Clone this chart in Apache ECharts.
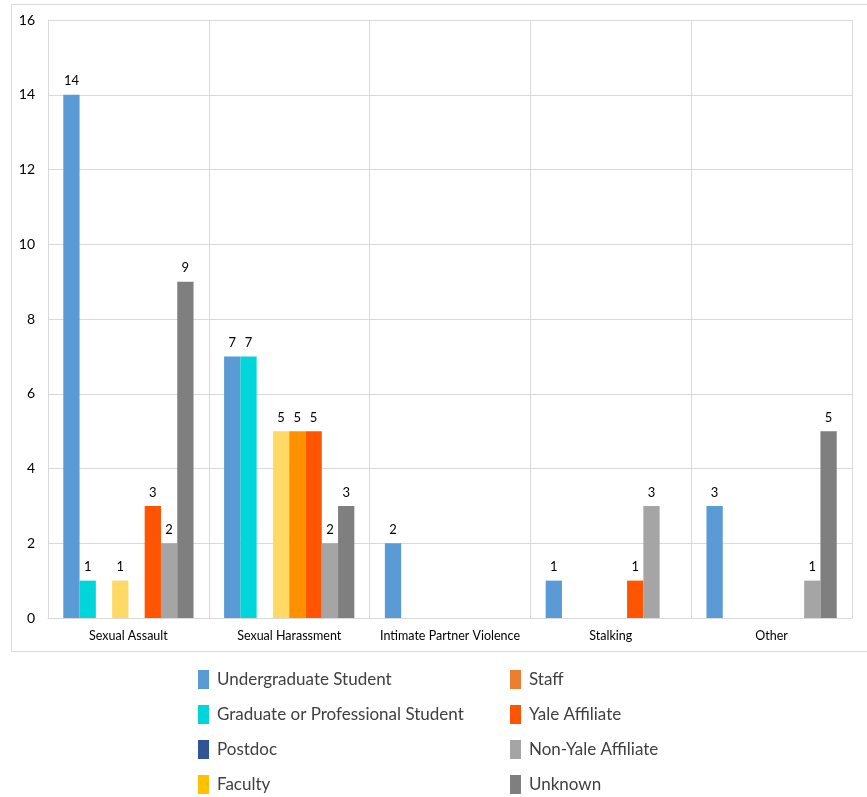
<!DOCTYPE html>
<html><head><meta charset="utf-8">
<script src="https://cdn.jsdelivr.net/npm/echarts@6/dist/echarts.min.js"></script>
<style>html,body{margin:0;padding:0;background:#fff}#c{width:867px;height:797px}</style>
</head><body><div id="c"></div>
<script>
const categories = ['Sexual Assault','Sexual Harassment','Intimate Partner Violence','Stalking','Other'];
const seriesNames = ['Undergraduate Student','Graduate or Professional Student','Postdoc','Faculty','Staff','Yale Affiliate','Non-Yale Affiliate','Unknown'];
const undergrad = [14,7,2,1,3];
const graduate = [1,7,0,0,0];
const postdoc = [0,0,0,0,0];
const faculty = [1,5,0,0,0];
const staff = [0,5,0,0,0];
const yaleAffiliate = [3,5,0,1,0];
const nonYaleAffiliate = [2,2,0,3,1];
const unknown = [9,3,0,0,5];
const yTicks = [0,2,4,6,8,10,12,14,16];

const seriesValues = [undergrad,graduate,postdoc,faculty,staff,yaleAffiliate,nonYaleAffiliate,unknown];
const legendColors = ['#5b9bd5','#00d5d9','#2f5597','#ffc000','#ed7d31','#ff5500','#a5a5a5','#7f7f7f'];
const barColors = ['#5b9bd5','#00d5d9','#2f5597','#ffd966','#ff9100','#ff5500','#a5a5a5','#7f7f7f'];
const labelFont = 'Lato, "DejaVu Sans", sans-serif';
const legendFont = 'Lato, "Open Sans", sans-serif';

const chart = echarts.init(document.getElementById('c'));
const series = seriesNames.map((name, i) => ({
  name, type: 'bar',
  barGap: '0%', barCategoryGap: '19%',
  itemStyle: { color: legendColors[i] },
  data: seriesValues[i].map(v => ({ value: v === 0 ? '-' : v, itemStyle: { color: barColors[i] } })),
  label: { show: true, position: 'top', distance: 7, color: '#000', fontSize: 13, fontFamily: labelFont },
  emphasis: { disabled: true },
  animation: false
}));
const legendCommon = { orient: 'vertical', top: 670, padding: 0, itemWidth: 11, itemHeight: 19, itemGap: 16, icon: 'rect', height: 130,
  textStyle: { fontSize: 17, color: '#404040', fontFamily: legendFont, padding: [0,0,0,3] }, selectedMode: false };
chart.setOption({
  animation: false,
  graphic: [{ type: 'rect', shape: { x: 11.5, y: 4.5, width: 870, height: 647 }, style: { fill: 'none', stroke: '#d9d9d9', lineWidth: 1 }, silent: true, z: -1 }],
  grid: { left: 48, top: 20, right: 15, bottom: 179 },
  xAxis: {
    type: 'category', data: categories,
    axisLine: { show: true, lineStyle: { color: '#d9d9d9' } },
    axisTick: { show: false },
    splitLine: { show: true, interval: 0, lineStyle: { color: '#d9d9d9' } },
    axisLabel: { interval: 0, color: '#000', fontSize: 12.5, fontFamily: labelFont, margin: 11 }
  },
  yAxis: {
    type: 'value', min: yTicks[0], max: yTicks[yTicks.length-1], interval: 2,
    axisLine: { show: true, lineStyle: { color: '#d9d9d9' } },
    splitLine: { lineStyle: { color: '#d9d9d9' } },
    axisLabel: { color: '#000', fontSize: 14, fontFamily: labelFont, margin: 13 }
  },
  legend: [
    Object.assign({ data: seriesNames.slice(0,4), left: 198 }, legendCommon),
    Object.assign({ data: seriesNames.slice(4), left: 510 }, legendCommon)
  ],
  series
});
</script></body></html>
